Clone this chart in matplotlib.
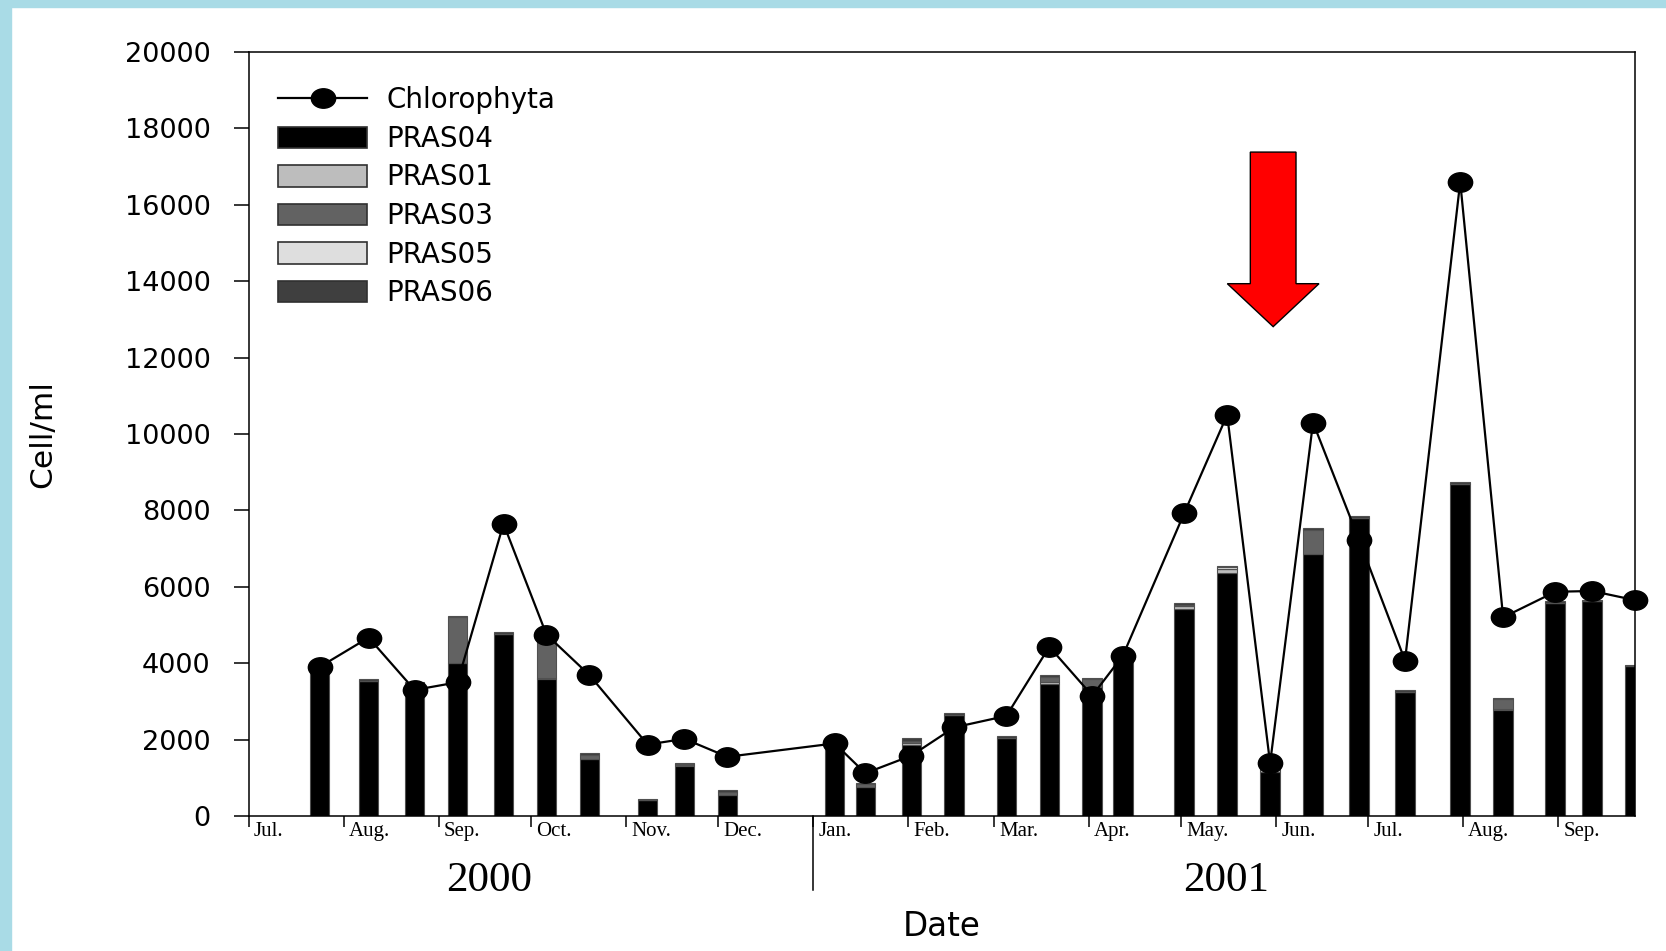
import numpy as np
import pandas as pd
import matplotlib
matplotlib.use('Agg')
import matplotlib.pyplot as plt
import matplotlib.dates as mdates
from matplotlib.path import Path
from matplotlib.patches import Rectangle, Patch
from matplotlib.lines import Line2D
from matplotlib.transforms import ScaledTranslation, blended_transform_factory

plt.rcParams['font.family'] = ['DejaVu Sans']

# sampling dates
dates = ['2000-07-24', '2000-08-09', '2000-08-24', '2000-09-07', '2000-09-22',
         '2000-10-06', '2000-10-20', '2000-11-08', '2000-11-20', '2000-12-04',
         '2001-01-08', '2001-01-18', '2001-02-02', '2001-02-16', '2001-03-05',
         '2001-03-19', '2001-04-02', '2001-04-12', '2001-05-02', '2001-05-16',
         '2001-05-30', '2001-06-13', '2001-06-28', '2001-07-13', '2001-07-31',
         '2001-08-14', '2001-08-31', '2001-09-12', '2001-09-26']

# stacked bar components (cell/ml)
pras04 = [3830, 3530, 3470, 4000, 4770, 3580, 1490, 420, 1310, 560,
          1760, 760, 1870, 2640, 2040, 3450, 3380, 4040, 5410, 6370,
          1160, 6850, 7800, 3250, 8700, 2770, 5580, 5620, 3920]
pras01 = [0, 0, 0, 0, 0, 30, 0, 0, 20, 0,
          0, 0, 40, 0, 0, 60, 0, 60, 80, 100,
          60, 0, 0, 0, 0, 30, 0, 0, 0]
pras03 = [0, 0, 0, 1200, 0, 1120, 100, 0, 30, 60,
          50, 70, 60, 0, 0, 120, 200, 0, 0, 0,
          0, 650, 0, 0, 0, 250, 0, 0, 0]
pras05 = [0, 0, 0, 0, 0, 0, 0, 0, 0, 0,
          0, 0, 0, 0, 0, 0, 0, 0, 40, 40,
          40, 0, 0, 0, 0, 0, 0, 0, 0]
pras06 = [30, 50, 50, 40, 40, 70, 50, 30, 30, 60,
          40, 40, 60, 60, 50, 60, 30, 70, 40, 40,
          40, 30, 50, 50, 40, 50, 50, 30, 30]

# total Chlorophyta
chloro = [3900, 4670, 3300, 3500, 7650, 4750, 3690, 1870, 2020, 1550,
          1900, 1120, 1580, 2320, 2620, 4430, 3150, 4200, 7930, 10500,
          1380, 10300, 7230, 4070, 16600, 5200, 5870, 5890, 5650]

series_names = ['PRAS04', 'PRAS01', 'PRAS03', 'PRAS05', 'PRAS06']
series_colors = ['#000000', '#bdbdbd', '#626262', '#dedede', '#3f3f3f']
month_labels = ['Jul.', 'Aug.', 'Sep.', 'Oct.', 'Nov.', 'Dec.', 'Jan.', 'Feb.',
                'Mar.', 'Apr.', 'May.', 'Jun.', 'Jul.', 'Aug.', 'Sep.']
years = ['2000', '2001']

x = mdates.date2num(pd.to_datetime(dates))
stacks = [pras04, pras01, pras03, pras05, pras06]

fig = plt.figure(figsize=(16.66, 9.51), dpi=100)
fig.patch.set_facecolor('white')
# cyan border of the slide
fig.patches.append(Rectangle((0, 1 - 7 / 951), 1, 7 / 951, transform=fig.transFigure,
                             color='#a9dbe6', zorder=0))
fig.patches.append(Rectangle((0, 0), 11 / 1666, 1, transform=fig.transFigure,
                             color='#a9dbe6', zorder=0))

ax = fig.add_axes([249 / 1666, 1 - 816 / 951, 1386 / 1666, 764 / 951])

bottom = np.zeros(len(x))
for vals, name, col in zip(stacks, series_names, series_colors):
    vals = np.array(vals, dtype=float)
    ax.bar(x, vals, width=6.4, bottom=bottom, color=col, edgecolor='#505050',
           linewidth=0.8, label=name, zorder=2)
    bottom += vals

ell = Path.unit_circle()
ell_marker = Path(ell.vertices * np.array([1.0, 0.8]), ell.codes)
ax.plot(x, chloro, color='black', lw=1.6, marker=ell_marker, markersize=17.5,
        zorder=3, clip_on=False)

x0 = mdates.date2num(pd.Timestamp('2000-07-01'))
x1 = mdates.date2num(pd.Timestamp('2001-09-26'))
ax.set_xlim(x0, x1)
ax.set_ylim(0, 20000)
ax.set_yticks(np.arange(0, 20001, 2000))
ax.tick_params(axis='y', direction='out', length=10.5, width=1.1, pad=17, labelsize=19.5)

months = mdates.date2num(pd.date_range('2000-07-01', '2001-09-01', freq='MS'))
ax.set_xticks(months)
ax.set_xticklabels(month_labels, ha='left', fontfamily='Liberation Serif')
ax.tick_params(axis='x', direction='out', length=8, width=1.1, pad=-3.5, labelsize=15)
offset = ScaledTranslation(5 / 100, 0, fig.dpi_scale_trans)
for lab in ax.get_xticklabels():
    lab.set_transform(lab.get_transform() + offset)

for s in ax.spines.values():
    s.set_linewidth(1.1)

# year separator and year labels
trans = blended_transform_factory(ax.transData, ax.transAxes)
jan = mdates.date2num(pd.Timestamp('2001-01-01'))
ax.plot([jan, jan], [0, -0.097], transform=trans, color='black', lw=1.1, clip_on=False)
ax.text(0.173, -0.085, years[0], transform=ax.transAxes, ha='center', va='center',
        fontsize=31, fontfamily='Liberation Serif')
ax.text(0.705, -0.085, years[1], transform=ax.transAxes, ha='center', va='center',
        fontsize=31, fontfamily='Liberation Serif')

ax.set_ylabel('Cell/ml', fontsize=22.5)
ax.yaxis.set_label_coords(-0.138, 0.5)
ax.set_xlabel('Date', fontsize=23.5)
ax.xaxis.set_label_coords(0.5, -0.145)
ax.xaxis.label.set_va('center')

# red arrow
arrow_x = mdates.date2num(pd.Timestamp('2001-05-31'))
ax.arrow(arrow_x, 17380, 0, 12810 - 17380, width=14.9, head_width=29.9,
         head_length=1125, length_includes_head=True, fc='#ff0000', ec='black',
         lw=1.0, zorder=4)

handles = [Line2D([], [], color='black', lw=1.6, marker=ell_marker, markersize=17.5)]
handles += [Patch(facecolor=c, edgecolor='#303030', linewidth=1.2) for c in series_colors]
ax.legend(handles, ['Chlorophyta'] + series_names, loc='upper left',
          bbox_to_anchor=(0.021, 0.955), frameon=False, fontsize=20,
          handlelength=3.2, handleheight=0.81, handletextpad=0.7,
          labelspacing=0.38, borderpad=0, borderaxespad=0)

fig.savefig('out.png', dpi=100)
